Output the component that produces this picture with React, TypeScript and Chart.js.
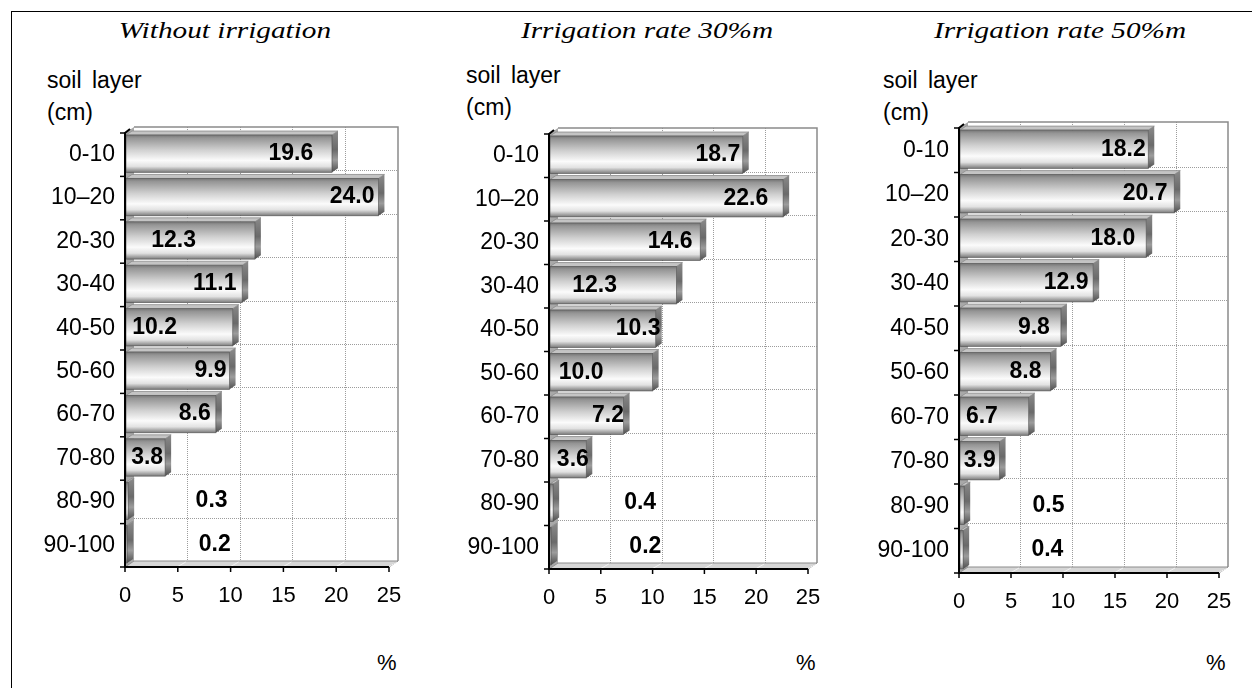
import React, { useEffect, useRef } from 'react';
import { Chart, registerables } from 'chart.js';

Chart.register(...registerables);

// ---------- data ----------
const soilLayers = ['0-10', '10–20', '20-30', '30-40', '40-50', '50-60', '60-70', '70-80', '80-90', '90-100'];
const withoutIrrigation = [19.6, 24.0, 12.3, 11.1, 10.2, 9.9, 8.6, 3.8, 0.3, 0.2];
const irrigationRate30 = [18.7, 22.6, 14.6, 12.3, 10.3, 10.0, 7.2, 3.6, 0.4, 0.2];
const irrigationRate50 = [18.2, 20.7, 18.0, 12.9, 9.8, 8.8, 6.7, 3.9, 0.5, 0.4];
const xTickValues = [0, 5, 10, 15, 20, 25];
const panelTitles = ['Without irrigation', 'Irrigation rate 30%m', 'Irrigation rate 50%m'];
const yAxisTitle = ['soil layer', '(cm)'];
const xAxisTitle = '%';

// where each value label sits (value units, centre of text), as placed in the original
const labelAnchor1 = [15.7, 21.5, 4.6, 8.5, 2.8, 8.1, 6.6, 2.1, 8.2, 8.5];
const labelAnchor2 = [16.3, 19.0, 11.7, 4.4, 8.6, 3.1, 5.7, 2.3, 8.8, 9.3];
const labelAnchor3 = [15.8, 17.9, 14.8, 10.3, 7.2, 6.4, 2.2, 2.0, 8.6, 8.5];

// ---------- styling / layout ----------
const SANS = '"Liberation Sans", Arial, sans-serif';
const SERIF = '"Liberation Serif", "Times New Roman", serif';
const OX = 9; // depth offset of back wall
const OY = -6;
const BDX = 6; // bar depth
const BDY = -4;
const Y_AXIS_W = 90;
const X_AXIS_H = 60;
const H = 688;

type Layout = {
  canvasLeft: number;
  width: number;
  area: { l: number; r: number; t: number; b: number };
  titleX: number;
  soilX: number;
  soilDy: number;
  pctX: number;
};

const layouts: Layout[] = [
  { canvasLeft: 12, width: 418, area: { l: 125, r: 389, t: 133, b: 567 }, titleX: 225, soilX: 47, soilDy: 0, pctX: 377 },
  { canvasLeft: 430, width: 410, area: { l: 549, r: 808, t: 134, b: 569 }, titleX: 647, soilX: 466, soilDy: -5, pctX: 796 },
  { canvasLeft: 840, width: 412, area: { l: 959, r: 1219, t: 128, b: 573 }, titleX: 1060, soilX: 883, soilDy: 0, pctX: 1206 },
];

const depthPlugin = {
  id: 'depth3d',
  beforeDatasetsDraw(chart: any) {
    const ctx: CanvasRenderingContext2D = chart.ctx;
    const xs = chart.scales.x;
    const ys = chart.scales.y;
    const L = xs.left, R = xs.right, T = ys.top, B = ys.bottom;
    const n = chart.data.labels.length;
    const band = (B - T) / n;
    ctx.save();
    // left wall
    ctx.fillStyle = '#a8a8a8';
    ctx.beginPath();
    ctx.moveTo(L, T); ctx.lineTo(L + OX, T + OY); ctx.lineTo(L + OX, B + OY); ctx.lineTo(L, B);
    ctx.closePath(); ctx.fill();
    // floor
    ctx.fillStyle = '#d6d6d6';
    ctx.strokeStyle = '#8c8c8c';
    ctx.lineWidth = 1;
    ctx.beginPath();
    ctx.moveTo(L, B); ctx.lineTo(L + OX, B + OY); ctx.lineTo(R + OX, B + OY); ctx.lineTo(R, B);
    ctx.closePath(); ctx.fill(); ctx.stroke();
    ctx.strokeStyle = '#f2f2f2';
    xTickValues.forEach((v) => {
      const x = xs.getPixelForValue(v);
      if (v <= 0) return;
      ctx.beginPath(); ctx.moveTo(x, B - 0.5); ctx.lineTo(x + OX - 1, B + OY + 1); ctx.stroke();
    });
    // grid on back wall
    ctx.setLineDash([1, 1]);
    ctx.strokeStyle = '#9c9c9c';
    ctx.lineWidth = 1;
    xTickValues.forEach((v) => {
      if (v <= xs.min || v >= xs.max) return;
      const x = Math.round(xs.getPixelForValue(v) + OX) + 0.5;
      ctx.beginPath(); ctx.moveTo(x, T + OY); ctx.lineTo(x, B + OY); ctx.stroke();
    });
    for (let k = 1; k < n; k++) {
      const y = Math.round(T + k * band + OY) + 0.5;
      ctx.beginPath(); ctx.moveTo(L + OX, y); ctx.lineTo(R + OX, y); ctx.stroke();
    }
    ctx.setLineDash([]);
    // back wall frame
    ctx.strokeStyle = '#8a8a8a';
    ctx.lineWidth = 1.5;
    ctx.beginPath();
    ctx.moveTo(L + OX, T + OY); ctx.lineTo(R + OX, T + OY); ctx.lineTo(R + OX, B + OY);
    ctx.stroke();
    ctx.restore();
  },
  afterDatasetsDraw(chart: any, _args: any, opts: any) {
    const ctx: CanvasRenderingContext2D = chart.ctx;
    const xs = chart.scales.x;
    const ys = chart.scales.y;
    const L = xs.left, R = xs.right, T = ys.top, B = ys.bottom;
    const n = chart.data.labels.length;
    const band = (B - T) / n;
    const meta = chart.getDatasetMeta(0);
    const values: number[] = chart.data.datasets[0].data;
    ctx.save();
    meta.data.forEach((el: any) => {
      const p = el.getProps(['x', 'y', 'base', 'height'], true);
      const x0 = p.base + 1;
      const x1 = Math.max(p.x, x0 + 1);
      const yTop = p.y - p.height / 2 - 1;
      const yBot = p.y + p.height / 2 - 1;
      // front face
      const g = ctx.createLinearGradient(0, yTop, 0, yBot);
      g.addColorStop(0, '#767676');
      g.addColorStop(0.08, '#959595');
      g.addColorStop(0.4, '#d0d0d0');
      g.addColorStop(0.68, '#fbfbfb');
      g.addColorStop(0.84, '#e2e2e2');
      g.addColorStop(1, '#7a7a7a');
      ctx.fillStyle = g;
      ctx.fillRect(x0, yTop, x1 - x0, yBot - yTop);
      // top face
      ctx.fillStyle = '#c4c4c4';
      ctx.beginPath();
      ctx.moveTo(x0, yTop); ctx.lineTo(x0 + BDX, yTop + BDY); ctx.lineTo(x1 + BDX, yTop + BDY); ctx.lineTo(x1, yTop);
      ctx.closePath(); ctx.fill();
      ctx.strokeStyle = '#8a8a8a'; ctx.lineWidth = 0.8; ctx.stroke();
      // right face
      const gs = ctx.createLinearGradient(0, yTop + BDY, 0, yBot);
      gs.addColorStop(0, '#8a8a8a');
      gs.addColorStop(0.45, '#6a6a6a');
      gs.addColorStop(0.7, '#9c9c9c');
      gs.addColorStop(1, '#4e4e4e');
      ctx.fillStyle = gs;
      ctx.beginPath();
      ctx.moveTo(x1, yTop); ctx.lineTo(x1 + BDX, yTop + BDY); ctx.lineTo(x1 + BDX, yBot + BDY); ctx.lineTo(x1, yBot);
      ctx.closePath(); ctx.fill();
      ctx.strokeStyle = 'rgba(70,70,70,0.7)'; ctx.lineWidth = 0.8;
      ctx.strokeRect(x0, yTop, x1 - x0, yBot - yTop);
    });
    // axes
    ctx.strokeStyle = '#000';
    ctx.lineWidth = 2;
    ctx.beginPath();
    ctx.moveTo(L + 5, T - 4); ctx.lineTo(L, T); ctx.lineTo(L, B); ctx.lineTo(R, B);
    ctx.stroke();
    ctx.lineWidth = 1.5;
    for (let k = 0; k <= n; k++) {
      const y = T + k * band;
      ctx.beginPath(); ctx.moveTo(L - 5, y); ctx.lineTo(L, y); ctx.stroke();
    }
    xTickValues.forEach((v) => {
      const x = xs.getPixelForValue(v);
      ctx.beginPath(); ctx.moveTo(x, B); ctx.lineTo(x, B + 5); ctx.stroke();
    });
    // value labels
    const anchors: number[] = opts.anchors;
    ctx.fillStyle = '#000';
    ctx.font = `bold 23px ${SANS}`;
    ctx.textAlign = 'center';
    ctx.textBaseline = 'middle';
    values.forEach((v, i) => {
      const x = xs.getPixelForValue(anchors[i]);
      const y = ys.getPixelForValue(i) - 1;
      ctx.fillText(v.toFixed(1), x, y);
    });
    ctx.restore();
  },
};

function BarPanel({ values, anchors, layout }: { values: number[]; anchors: number[]; layout: Layout }) {
  const ref = useRef<HTMLCanvasElement>(null);
  useEffect(() => {
    const canvas = ref.current;
    if (!canvas) return;
    const { area, canvasLeft, width } = layout;
    const chart = new Chart(canvas, {
      type: 'bar',
      data: {
        labels: soilLayers,
        datasets: [
          {
            data: values,
            backgroundColor: 'rgba(0,0,0,0)',
            borderWidth: 0,
            barPercentage: 0.86,
            categoryPercentage: 1,
          },
        ],
      },
      options: {
        indexAxis: 'y',
        responsive: false,
        maintainAspectRatio: false,
        animation: false,
        devicePixelRatio: 1,
        layout: {
          padding: {
            left: area.l - canvasLeft - Y_AXIS_W,
            right: canvasLeft + width - area.r,
            top: area.t,
            bottom: H - area.b - X_AXIS_H,
          },
        },
        plugins: {
          legend: { display: false },
          tooltip: { enabled: false },
          title: { display: false },
          depth3d: { anchors },
        } as any,
        scales: {
          x: {
            type: 'linear',
            min: xTickValues[0],
            max: xTickValues[xTickValues.length - 1],
            afterBuildTicks: (axis: any) => {
              axis.ticks = xTickValues.map((v) => ({ value: v }));
            },
            afterFit: (axis: any) => {
              axis.height = X_AXIS_H;
            },
            ticks: {
              color: '#000',
              font: { family: SANS, size: 22 },
              padding: 16,
              maxRotation: 0,
              autoSkip: false,
            },
            grid: { display: false, drawTicks: false },
            border: { display: false },
          },
          y: {
            type: 'category',
            afterFit: (axis: any) => {
              axis.width = Y_AXIS_W;
            },
            ticks: {
              color: '#000',
              font: { family: SANS, size: 23 },
              padding: 10,
              autoSkip: false,
            },
            grid: { display: false, drawTicks: false },
            border: { display: false },
          },
        },
      } as any,
      plugins: [depthPlugin],
    });
    return () => chart.destroy();
  }, [values, anchors, layout]);
  return (
    <canvas
      ref={ref}
      width={layout.width}
      height={H}
      style={{ position: 'absolute', left: layout.canvasLeft, top: 0, width: layout.width, height: H }}
    />
  );
}

const textBase: React.CSSProperties = { position: 'absolute', whiteSpace: 'nowrap', color: '#000', margin: 0 };

export default function App() {
  const series = [withoutIrrigation, irrigationRate30, irrigationRate50];
  const anchors = [labelAnchor1, labelAnchor2, labelAnchor3];
  return (
    <div
      style={{
        position: 'fixed',
        left: 0,
        top: 0,
        width: 1252,
        height: H,
        background: '#fff',
        overflow: 'hidden',
      }}
    >
      <div
        style={{
          position: 'absolute',
          left: 11,
          top: 11,
          width: 1400,
          height: 900,
          borderLeft: '1.5px solid #000',
          borderTop: '1.5px solid #000',
        }}
      />
      {layouts.map((lay, i) => (
        <React.Fragment key={i}>
          <div
            style={{
              ...textBase,
              left: lay.titleX,
              top: 18,
              fontFamily: SERIF,
              fontStyle: 'italic',
              fontSize: 24,
              lineHeight: '24px',
              transform: 'translateX(-50%) scaleX(1.22)',
              transformOrigin: 'center',
            }}
          >
            {panelTitles[i]}
          </div>
          <div
            style={{
              ...textBase,
              left: lay.soilX,
              top: 69 + lay.soilDy,
              fontFamily: SANS,
              fontSize: 23,
              lineHeight: '23px',
              wordSpacing: 4,
            }}
          >
            {yAxisTitle[0]}
          </div>
          <div
            style={{
              ...textBase,
              left: lay.soilX,
              top: 101 + lay.soilDy,
              fontFamily: SANS,
              fontSize: 23,
              lineHeight: '23px',
            }}
          >
            {yAxisTitle[1]}
          </div>
          <div
            style={{
              ...textBase,
              left: lay.pctX,
              top: 652,
              fontFamily: SANS,
              fontSize: 22,
              lineHeight: '22px',
            }}
          >
            {xAxisTitle}
          </div>
          <BarPanel values={series[i]} anchors={anchors[i]} layout={lay} />
        </React.Fragment>
      ))}
    </div>
  );
}
